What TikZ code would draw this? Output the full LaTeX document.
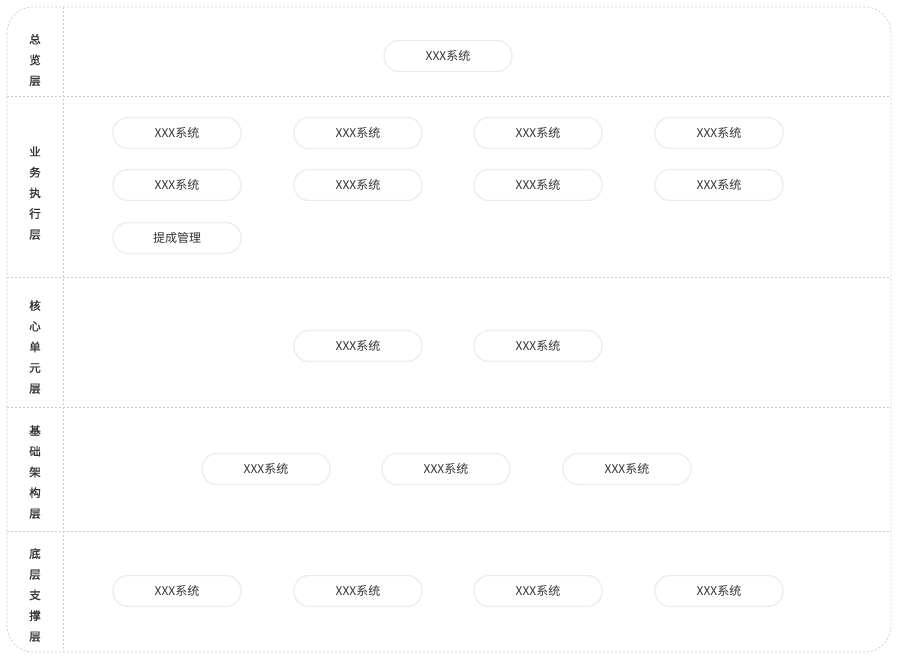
\documentclass[tikz,border=0pt]{standalone}
\usepackage{fontspec}
\setmainfont{Noto Sans CJK SC}
\newfontfamily\labfont{Noto Sans CJK SC}[FakeBold=1.2]
\definecolor{dashgray}{HTML}{CCCCCC}
\definecolor{pillborder}{HTML}{ECECEC}
\definecolor{txtgray}{HTML}{333333}
\begin{document}
\begin{tikzpicture}[x=1pt,y=-1pt,
  divider/.style={draw=dashgray,line width=0.7pt,dash pattern=on 2pt off 2pt},
  pill/.style={draw=pillborder,line width=1.2pt,fill=white,rounded corners=15pt,
    minimum width=128pt,minimum height=31pt,inner sep=0pt,
    font=\fontsize{12}{14}\selectfont,text=txtgray},
  layerlabel/.style={align=center,inner sep=0pt,text=txtgray,
    font=\labfont\fontsize{11.5}{20.7}\selectfont}]
\useasboundingbox (0,0) rectangle (898,658);
\draw[divider,rounded corners=26pt] (7,7) rectangle (891,652);
\draw[divider] (63,7) coordinate (vt) -- (63,652) coordinate (vb);
\draw[divider] (7,96) coordinate (h1l) -- (891,96) coordinate (h1r);
\draw[divider] (7,277) coordinate (h2l) -- (891,277) coordinate (h2r);
\draw[divider] (7,407) coordinate (h3l) -- (891,407) coordinate (h3r);
\draw[divider] (7,531) coordinate (h4l) -- (891,531) coordinate (h4r);

\node[layerlabel] (l1) at (35,60) {总\\览\\层};
\node[layerlabel] (l2) at (35,193) {业\\务\\执\\行\\层};
\node[layerlabel] (l3) at (35,347) {核\\心\\单\\元\\层};
\node[layerlabel] (l4) at (35,472) {基\\础\\架\\构\\层};
\node[layerlabel] (l5) at (35,595) {底\\层\\支\\撑\\层};

\node[pill] (o1) at (448,56) {XXX系统};

\node[pill] (b11) at (177,133) {XXX系统};
\node[pill] (b12) at (358,133) {XXX系统};
\node[pill] (b13) at (538,133) {XXX系统};
\node[pill] (b14) at (719,133) {XXX系统};
\node[pill] (b21) at (177,185) {XXX系统};
\node[pill] (b22) at (358,185) {XXX系统};
\node[pill] (b23) at (538,185) {XXX系统};
\node[pill] (b24) at (719,185) {XXX系统};
\node[pill] (b31) at (177,238) {提成管理};

\node[pill] (c1) at (358,346) {XXX系统};
\node[pill] (c2) at (538,346) {XXX系统};

\node[pill] (f1) at (266,469) {XXX系统};
\node[pill] (f2) at (446,469) {XXX系统};
\node[pill] (f3) at (627,469) {XXX系统};

\node[pill] (s1) at (177,591) {XXX系统};
\node[pill] (s2) at (358,591) {XXX系统};
\node[pill] (s3) at (538,591) {XXX系统};
\node[pill] (s4) at (719,591) {XXX系统};
\end{tikzpicture}
\end{document}
